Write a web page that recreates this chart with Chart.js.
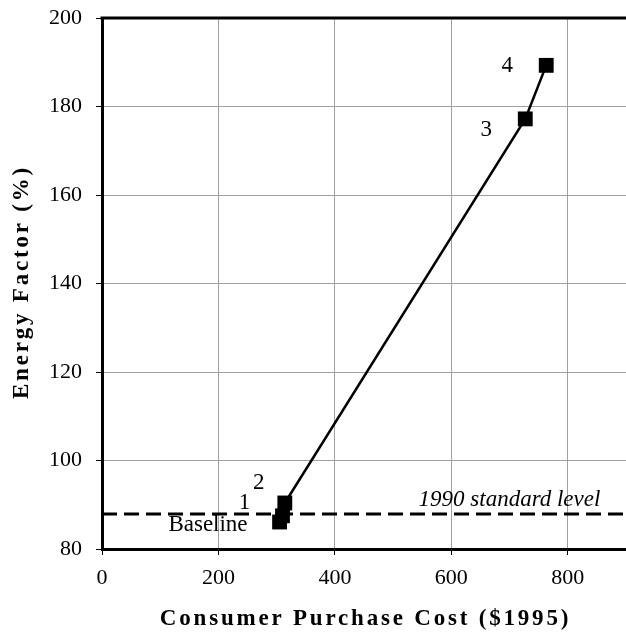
<!DOCTYPE html>
<html><head><meta charset="utf-8">
<script src="https://cdn.jsdelivr.net/npm/chart.js@4"></script>
<style>html,body{margin:0;padding:0;background:#fff;overflow:hidden}#wrap{width:626px;height:633px;position:relative}canvas{display:block}</style>
</head><body><div id="wrap"><canvas id="c"></canvas></div>
<script>
const pointLabels = ['Baseline', '1', '2', '3', '4'];
const costValues = [305, 310, 314, 727, 763];
const efficiencyValues = [86.1, 87.5, 90.4, 177.2, 189.3];
const standardLevel = 87.9;
const standardLabel = '1990 standard level';
const xTicks = [0, 200, 400, 600, 800];
const yTicks = [80, 100, 120, 140, 160, 180, 200];
const xTitle = 'Consumer Purchase Cost ($1995)';
const yTitle = 'Energy Factor (%)';

const labelOffsets = [[-32, 3, 'right'], [-38, -13, 'center'], [-26, -20, 'center'], [-39, 11, 'center'], [-39, 1, 'center']];
const serif = '"Liberation Serif", "Times New Roman", serif';

const overlay = {
  id: 'overlay',
  afterDraw(chart) {
    const ctx = chart.ctx, a = chart.chartArea;
    const xs = chart.scales.x, ys = chart.scales.y;
    ctx.save();
    ctx.strokeStyle = '#000'; ctx.lineWidth = 3;
    ctx.beginPath(); ctx.moveTo(a.left - 1.5, a.top); ctx.lineTo(a.right, a.top); ctx.stroke();
    ctx.fillStyle = '#000';
    ctx.font = '23px ' + serif;
    ctx.textBaseline = 'middle';
    pointLabels.forEach((t, i) => {
      const px = xs.getPixelForValue(costValues[i]), py = ys.getPixelForValue(efficiencyValues[i]);
      const o = labelOffsets[i];
      ctx.textAlign = o[2];
      ctx.fillText(t, px + o[0], py + o[1]);
    });
    ctx.font = 'italic 23px ' + serif;
    ctx.textAlign = 'right';
    ctx.fillText(standardLabel, xs.getPixelForValue(856), ys.getPixelForValue(standardLevel) - 14);
    ctx.font = 'bold 23px ' + serif;
    ctx.letterSpacing = '2.8px';
    ctx.textAlign = 'center';
    ctx.fillText(xTitle, (a.left + a.right) / 2 + 1.5, 619);
    ctx.translate(22, (a.top + a.bottom) / 2);
    ctx.rotate(-Math.PI / 2);
    ctx.fillText(yTitle, 1.5, 0);
    ctx.restore();
  }
};

function zeroPad(s) { s.paddingLeft = 0; s.paddingRight = 0; s.paddingTop = 0; s.paddingBottom = 0; }

new Chart(document.getElementById('c'), {
  type: 'scatter',
  data: {
    datasets: [
      {
        data: costValues.map((x, i) => ({x, y: efficiencyValues[i]})),
        showLine: true,
        borderColor: '#000',
        backgroundColor: '#000',
        borderWidth: 2.5,
        pointStyle: 'rect',
        pointRadius: 10.5,
        pointHoverRadius: 10.5,
        pointBorderWidth: 0,
        order: 1
      },
      {
        data: [{x: 0, y: standardLevel}, {x: 900, y: standardLevel}],
        showLine: true,
        borderColor: '#000',
        borderWidth: 3,
        borderDash: [15, 7],
        pointRadius: 0,
        order: 2
      }
    ]
  },
  options: {
    responsive: true,
    maintainAspectRatio: false,
    animation: false,
    events: [],
    layout: {autoPadding: false, padding: {top: 18, right: 0, left: 0, bottom: 0}},
    plugins: {legend: {display: false}, tooltip: {enabled: false}},
    scales: {
      x: {
        type: 'linear', min: 0, max: 900,
        afterBuildTicks: s => { s.ticks = xTicks.map(v => ({value: v})); },
        afterFit: s => { s.height = 84; zeroPad(s); },
        grid: {color: '#a0a0a0', lineWidth: 1, tickLength: 6, tickColor: '#000'},
        border: {color: '#000', width: 3},
        ticks: {color: '#000', font: {family: serif, size: 22}, padding: 10, maxRotation: 0}
      },
      y: {
        type: 'linear', min: 80, max: 200,
        afterBuildTicks: s => { s.ticks = yTicks.map(v => ({value: v})); },
        afterFit: s => { s.width = 102; zeroPad(s); },
        grid: {color: '#a0a0a0', lineWidth: 1, tickLength: 6, tickColor: '#000'},
        border: {color: '#000', width: 3},
        ticks: {color: '#000', font: {family: serif, size: 22}, padding: 14}
      }
    }
  },
  plugins: [overlay]
});
</script></body></html>
